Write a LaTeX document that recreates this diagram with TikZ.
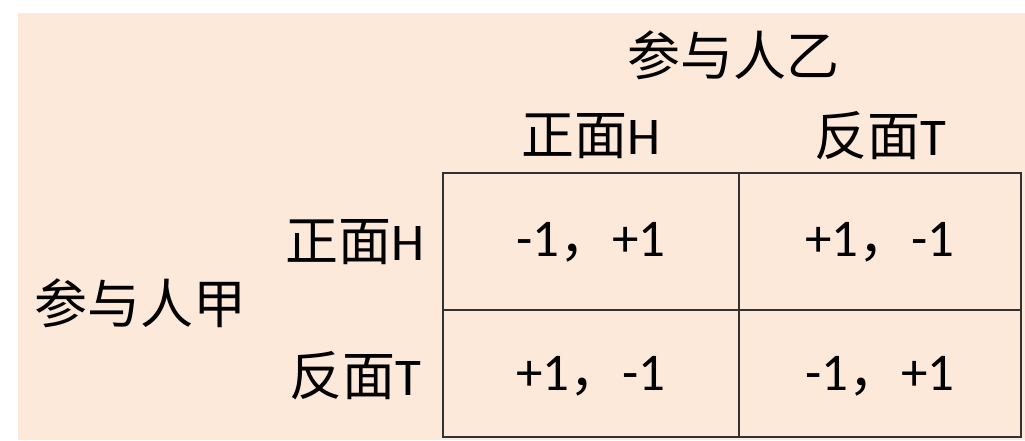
\documentclass[tikz,border=0pt]{standalone}
\usepackage{fontspec}
\setmainfont{Carlito}
\newfontfamily\cjk{Noto Sans CJK SC}

\definecolor{peach}{RGB}{253,233,218}
\definecolor{gridline}{RGB}{50,50,50}

\tikzset{
  label/.style={inner sep=0pt, font=\fontsize{53}{60}\selectfont},
  grid/.style={draw=gridline, line width=2.5pt}
}

\begin{document}
\begin{tikzpicture}[x=1pt, y=-1pt]
    \useasboundingbox (0,0) rectangle (1025,440);
    \fill[peach] 
      (18,13) rectangle (1025,440)
    ;

    % players
    \node[label] (colplayer) at (733,55) {\cjk 参与人乙};
    \node[label] (rowplayer) at (140,303) {\cjk 参与人甲};

    % strategies
    \node[label] (colH) at (591,136) {{\cjk 正面}H};
    \node[label] (colT) at (880,136) {{\cjk 反面}T};
    \node[label] (rowH) at (355,242) {{\cjk 正面}H};
    \node[label] (rowT) at (355,376) {{\cjk 反面}T};

    % payoffs
    \node[label] (payHH) at (591,242) {-1{\cjk ，}+1};
    \node[label] (payHT) at (880,242) {+1{\cjk ，}-1};
    \node[label] (payTH) at (591,376) {+1{\cjk ，}-1};
    \node[label] (payTT) at (880,376) {-1{\cjk ，}+1};

    \draw[grid] 
      (443,173) rectangle (1021,437)
      (739,173) -- (739,437)
      (443,310) -- (1021,310)
    ;
  \end{tikzpicture}
\end{document}
